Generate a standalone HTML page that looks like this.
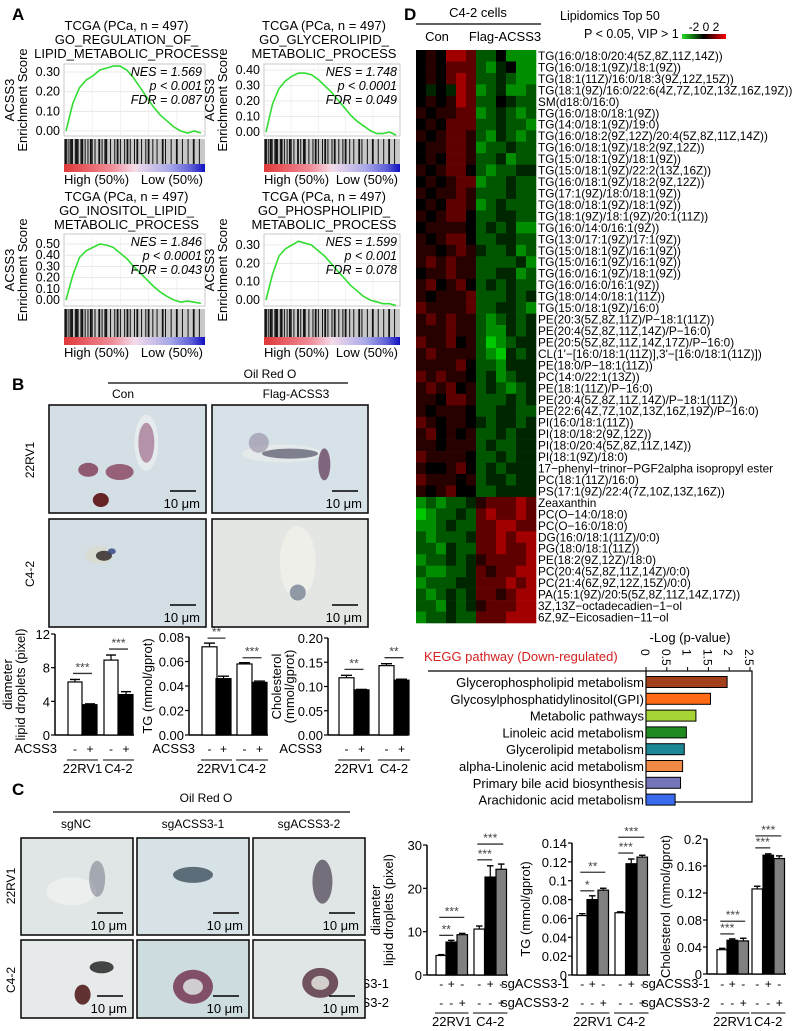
<!DOCTYPE html>
<html><head><meta charset="utf-8">
<style>
html,body{margin:0;padding:0;background:#fff;}
svg{display:block;font-family:"Liberation Sans",Arial,sans-serif;}
</style></head>
<body>
<svg id="fig" width="797" height="1031" viewBox="0 0 797 1031" xmlns="http://www.w3.org/2000/svg">
<defs>
<linearGradient id="rankGrad" x1="0" x2="1" y1="0" y2="0">
<stop offset="0" stop-color="#e03838"/><stop offset="0.35" stop-color="#f0909c"/><stop offset="0.5" stop-color="#f4dcea"/><stop offset="0.75" stop-color="#a8a8e8"/><stop offset="0.9" stop-color="#6060d8"/><stop offset="1" stop-color="#1010c0"/>
</linearGradient>
<linearGradient id="hmLegend" x1="0" x2="1"><stop offset="0" stop-color="#22dd22"/><stop offset="0.5" stop-color="#000"/><stop offset="1" stop-color="#ff0000"/></linearGradient>
</defs>
<g id="root"></g>
</svg>
<script>
// ---------- DATA ----------
const gseaCurve1 = [0,0.14,0.22,0.26,0.28,0.31,0.32,0.33,0.33,0.31,0.27,0.22,0.17,0.12,0.08,0.05,0.02,0.0,-0.01,0.0,-0.01];
const gseaCurve2 = [0,0.18,0.28,0.33,0.36,0.38,0.38,0.37,0.34,0.30,0.26,0.21,0.16,0.11,0.07,0.04,0.01,-0.01,-0.01,0.0,-0.02];
const gseaCurve3 = [0,0.22,0.38,0.44,0.47,0.50,0.49,0.47,0.42,0.37,0.30,0.24,0.18,0.12,0.07,0.03,0.0,-0.02,-0.01,-0.02,-0.03];
const gseaCurve4 = [0,0.14,0.24,0.28,0.30,0.32,0.31,0.30,0.27,0.24,0.20,0.16,0.12,0.08,0.05,0.02,0.0,-0.01,-0.02,-0.02,-0.03];
const gseaTicks1 = [0,0.1,0.2,0.3];
const gseaTicks2 = [0,0.1,0.2,0.3,0.4];
const gseaTicks3 = [0,0.1,0.2,0.3,0.4,0.5];
const gseaTicks4 = [0,0.1,0.2,0.3];
const gseaHits = [0.01,0.02,0.035,0.05,0.06,0.08,0.09,0.1,0.12,0.13,0.15,0.17,0.19,0.2,0.22,0.25,0.27,0.29,0.3,0.33,0.36,0.38,0.4,0.43,0.45,0.47,0.5,0.52,0.55,0.58,0.6,0.63,0.66,0.7,0.72,0.76,0.8,0.84,0.88,0.92,0.96];

const bDiam = [6.3,3.6,8.9,4.8];   const bDiamErr = [0.3,0.1,0.6,0.35];
const bTG = [0.072,0.046,0.058,0.043]; const bTGErr = [0.003,0.002,0.001,0.001];
const bChol = [0.118,0.093,0.143,0.113]; const bCholErr = [0.005,0.001,0.004,0.002];
const bDiamTicks = [0,4,8,12];
const bTGTicks = [0,0.02,0.04,0.06,0.08];
const bCholTicks = [0,0.05,0.10,0.15,0.20];

const cDiam = [4.5,7.6,9.3,10.6,22.6,24.4]; const cDiamErr = [0.2,0.4,0.3,0.7,2.6,1.2];
const cTG = [0.063,0.080,0.090,0.066,0.118,0.125]; const cTGErr = [0.002,0.004,0.002,0.001,0.005,0.002];
const cChol = [0.036,0.050,0.049,0.126,0.176,0.171]; const cCholErr = [0.002,0.002,0.004,0.004,0.002,0.004];
const cDiamTicks = [0,10,20,30];
const cTGTicks = [0,0.02,0.04,0.06,0.08,0.1,0.12,0.14];
const cCholTicks = [0,0.04,0.08,0.12,0.16,0.2];

const keggNames = ["Glycerophospholipid metabolism","Glycosylphosphatidylinositol(GPI)","Metabolic pathways","Linoleic acid metabolism","Glycerolipid metabolism","alpha-Linolenic acid metabolism","Primary bile acid biosynthesis","Arachidonic acid metabolism"];
const keggValues = [1.95,1.55,1.2,0.97,0.92,0.88,0.83,0.7];
const keggColors = ["#a3401c","#ff6a14","#a6d436","#1f8a1f","#1b8694","#f08a44","#7474b8","#3a6aee"];
const keggTicks = ["0","0.5","1","1.5","2","2.5"];

const lipidNames = ["TG(16:0/18:0/20:4(5Z,8Z,11Z,14Z))","TG(16:0/18:1(9Z)/18:1(9Z))","TG(18:1(11Z)/16:0/18:3(9Z,12Z,15Z))","TG(18:1(9Z)/16:0/22:6(4Z,7Z,10Z,13Z,16Z,19Z))","SM(d18:0/16:0)","TG(16:0/18:0/18:1(9Z))","TG(14:0/18:1(9Z)/19:0)","TG(16:0/18:2(9Z,12Z)/20:4(5Z,8Z,11Z,14Z))","TG(16:0/18:1(9Z)/18:2(9Z,12Z))","TG(15:0/18:1(9Z)/18:1(9Z))","TG(15:0/18:1(9Z)/22:2(13Z,16Z))","TG(16:0/18:1(9Z)/18:2(9Z,12Z))","TG(17:1(9Z)/18:0/18:1(9Z))","TG(18:0/18:1(9Z)/18:1(9Z))","TG(18:1(9Z)/18:1(9Z)/20:1(11Z))","TG(16:0/14:0/16:1(9Z))","TG(13:0/17:1(9Z)/17:1(9Z))","TG(15:0/18:1(9Z)/16:1(9Z))","TG(15:0/16:1(9Z)/16:1(9Z))","TG(16:0/16:1(9Z)/18:1(9Z))","TG(16:0/16:0/16:1(9Z))","TG(18:0/14:0/18:1(11Z))","TG(15:0/18:1(9Z)/16:0)","PE(20:3(5Z,8Z,11Z)/P\u221218:1(11Z))","PE(20:4(5Z,8Z,11Z,14Z)/P\u221216:0)","PE(20:5(5Z,8Z,11Z,14Z,17Z)/P\u221216:0)","CL(1'\u2212[16:0/18:1(11Z)],3'\u2212[16:0/18:1(11Z)])","PE(18:0/P\u221218:1(11Z))","PC(14:0/22:1(13Z))","PE(18:1(11Z)/P\u221216:0)","PE(20:4(5Z,8Z,11Z,14Z)/P\u221218:1(11Z))","PE(22:6(4Z,7Z,10Z,13Z,16Z,19Z)/P\u221216:0)","PI(16:0/18:1(11Z))","PI(18:0/18:2(9Z,12Z))","PI(18:0/20:4(5Z,8Z,11Z,14Z))","PI(18:1(9Z)/18:0)","17\u2212phenyl\u2212trinor\u2212PGF2alpha isopropyl ester","PC(18:1(11Z)/16:0)","PS(17:1(9Z)/22:4(7Z,10Z,13Z,16Z))","Zeaxanthin","PC(O\u221214:0/18:0)","PC(O\u221216:0/18:0)","DG(16:0/18:1(11Z)/0:0)","PG(18:0/18:1(11Z))","PE(18:2(9Z,12Z)/18:0)","PC(20:4(5Z,8Z,11Z,14Z)/0:0)","PC(21:4(6Z,9Z,12Z,15Z)/0:0)","PA(15:1(9Z)/20:5(5Z,8Z,11Z,14Z,17Z))","3Z,13Z\u2212octadecadien\u22121\u2212ol","6Z,9Z\u2212Eicosadien\u221211\u2212ol"];
const heatRows = [
"efehhgccebbb","efegggcbdebb","efeghgccdcbb","ededhgbcdbbc","efefhgccedcc",
"feffggbcdcbc","efegggccdccb","fefggfcbdcbc","effggfbccdcc","efeggfccdbcc",
"fefggecbccdd","efefggbccdcc","feffgfcccdcc","efeggfbcdccc","fefggeccddcc",
"effffecdcdbb","fefggeccddcc","ffefgfdccdbc","fgfgffccccdb","effgffccddbc",
"fgefgecdcdcc","fefffgcccdcd","gffffgccddcb","fgfgffcbcdcd","fffgffcbbdcd",
"gffgefcabcdd","fgffffcbadcd","ffffgeccbddd","gfgffecdbcdd","fgfgefcdcbcd",
"ffeggfcccdcd","fefffeccddcc","gfeffedcddcd","fgefefccdcdd","ffefffcdccdd",
"gffffeccdcdd","feefgecdcddd","gfffefcddcdd","fefgeeccdddd",
"bcbccdfggghg","abccdcghgghg","bbcdccgghhgg","cbcccdgghghh","ccbdccgghggh",
"bccdcdfggggh","cbbccdgfgghh","bcccddggghgh","cbcdcdggfghh","ccbdcdfggghh","bccdccggghhh"];

// ---------- HELPERS ----------
const NS="http://www.w3.org/2000/svg";
const root=document.getElementById('root');
function el(tag,attrs,parent,text){
  const e=document.createElementNS(NS,tag);
  for(const k in attrs) e.setAttribute(k,attrs[k]);
  if(text!==undefined) e.textContent=text;
  (parent||root).appendChild(e);
  return e;
}
function txt(x,y,s,size,opts,parent){
  opts=opts||{};
  const t=el('text',{x:x,y:y,'font-size':size,'text-anchor':opts.anchor||'start',fill:opts.fill||'#000','font-weight':opts.weight||'normal','font-style':opts.style||'normal'},parent,s);
  if(opts.rotate) t.setAttribute('transform','rotate('+opts.rotate+' '+x+' '+y+')');
  
  
  return t;
}
function fmt(v,d){return v.toFixed(d);}

txt(12,20,'A',17,{weight:'bold',name:'panel-a-label'});
txt(12,390,'B',17,{weight:'bold',name:'panel-b-label'});
txt(12,795,'C',17,{weight:'bold',name:'panel-c-label'});
txt(404,20,'D',17,{weight:'bold',name:'panel-d-label'});

// ---------- PANEL A ----------
function gsea(cfg){
  const g=el('g',{});
  
  
  const cx=cfg.x+cfg.w/2-8;
  txt(cx,cfg.ty,'TCGA (PCa, n = 497)',13,{anchor:'middle',name:'gsea-title'},g);
  txt(cx,cfg.ty+14,cfg.t2,13,{anchor:'middle',name:'gsea-title'},g);
  txt(cx,cfg.ty+28,cfg.t3,13,{anchor:'middle',name:'gsea-title'},g);
  const x0=cfg.x,w=cfg.w,top=cfg.top,bot=cfg.bot;
  const y=v=>cfg.zero-(v/cfg.tmax)*(cfg.zero-cfg.tmaxY);
  el('rect',{x:x0,y:top,width:w,height:bot-top,fill:'#fff',stroke:'#bbb','stroke-width':0.8},g);
  cfg.ticks.forEach(t=>{
    el('line',{x1:x0,x2:x0+w,y1:y(t),y2:y(t),stroke:'#e4e4e4','stroke-width':0.8},g);
    txt(x0-4,y(t)+4,fmt(t,2),12.5,{anchor:'end',name:'y-tick'},g);
  });
  for(let i=1;i<5;i++) el('line',{x1:x0+w*i/5,x2:x0+w*i/5,y1:top,y2:bot,stroke:'#eee','stroke-width':0.8},g);
  const pts=cfg.curve.map((v,i)=>(x0+2+i*(w-6)/(cfg.curve.length-1)).toFixed(1)+','+y(v).toFixed(1)).join(' ');
  const pl=el('polyline',{points:pts,fill:'none',stroke:'#33dd33','stroke-width':1.6},g);
  
  
  txt(x0+w-3,top+12,cfg.nes,12.5,{anchor:'end',style:'italic',name:'nes-value'},g);
  txt(x0+w-3,top+26,cfg.p,12.5,{anchor:'end',style:'italic',name:'p-value'},g);
  txt(x0+w-3,top+40,cfg.fdr,12.5,{anchor:'end',style:'italic',name:'fdr-value'},g);
  const by=bot+3,bh=cfg.barH;
  el('rect',{x:x0,y:by,width:w,height:bh,fill:'#c8c8c8'},g);
  cfg.hits.forEach((h,i)=>{
    const bx=x0+h*w;
    el('line',{x1:bx,x2:bx,y1:by,y2:by+bh-8,stroke:'#111','stroke-width':(i%3===0)?1.8:1},g);
  });
  const gr=el('rect',{x:x0,y:by+bh-8,width:w,height:8,fill:'url(#rankGrad)'},g);
  
  
  txt(x0,by+bh+12,'High (50%)',13,{name:'high-label'},g);
  txt(x0+w-2,by+bh+12,'Low (50%)',13,{anchor:'end',name:'low-label'},g);
  txt(cfg.x-50,(top+bot)/2,'ACSS3',13,{anchor:'middle',rotate:-90,name:'y-axis-title'},g);
  txt(cfg.x-37,(top+bot)/2,'Enrichment Score',13,{anchor:'middle',rotate:-90,name:'y-axis-title'},g);
}
gsea({name:'gsea-regulation-lipid',x:64,w:141,ty:30,t2:'GO_REGULATION_OF_',t3:'LIPID_METABOLIC_PROCESS',top:64,bot:136,zero:131,tmax:0.3,tmaxY:72,ticks:gseaTicks1,curve:gseaCurve1,nes:'NES = 1.569',p:'p < 0.001',fdr:'FDR = 0.087',hits:gseaHits,barH:33});
gsea({name:'gsea-glycerolipid',x:264,w:136,ty:30,t2:'GO_GLYCEROLIPID_',t3:'METABOLIC_PROCESS',top:64,bot:136,zero:132,tmax:0.4,tmaxY:70,ticks:gseaTicks2,curve:gseaCurve2,nes:'NES = 1.748',p:'p < 0.0001',fdr:'FDR = 0.049',hits:gseaHits,barH:33});
gsea({name:'gsea-inositol-lipid',x:64,w:141,ty:201,t2:'GO_INOSITOL_LIPID_',t3:'METABOLIC_PROCESS',top:234,bot:306,zero:300,tmax:0.5,tmaxY:244,ticks:gseaTicks3,curve:gseaCurve3,nes:'NES = 1.846',p:'p < 0.0001',fdr:'FDR = 0.043',hits:gseaHits,barH:36});
gsea({name:'gsea-phospholipid',x:264,w:136,ty:201,t2:'GO_PHOSPHOLIPID_',t3:'METABOLIC_PROCESS',top:234,bot:306,zero:300,tmax:0.3,tmaxY:245,ticks:gseaTicks4,curve:gseaCurve4,nes:'NES = 1.599',p:'p < 0.001',fdr:'FDR = 0.078',hits:gseaHits,barH:36});

// ---------- BAR CHARTS ----------
function barChart(cfg){
  const g=el('g',{});
  
  
  const max=cfg.ticks[cfg.ticks.length-1];
  const y=v=>cfg.y0-(v/max)*(cfg.y0-cfg.yTop);
  el('line',{x1:cfg.ax,x2:cfg.ax,y1:cfg.yTop,y2:cfg.y0,stroke:'#000','stroke-width':1.5},g);
  el('line',{x1:cfg.ax,x2:cfg.xEnd,y1:cfg.y0,y2:cfg.y0,stroke:'#000','stroke-width':1.5},g);
  cfg.ticks.forEach(t=>{
    el('line',{x1:cfg.ax-4,x2:cfg.ax,y1:y(t),y2:y(t),stroke:'#000','stroke-width':1.2},g);
    txt(cfg.ax-5,y(t)+5,cfg.tickFmt(t),cfg.tfs||13,{anchor:'end',name:'y-tick'},g);
  });
  cfg.values.forEach((v,i)=>{
    const bx=cfg.bx[i];
    const r=el('rect',{x:bx,y:y(v),width:cfg.bw,height:cfg.y0-y(v),fill:cfg.fills[i%cfg.fills.length],stroke:'#000','stroke-width':1.2},g);
    
    
    const ey=y(v+cfg.err[i]);
    el('line',{x1:bx+cfg.bw/2,x2:bx+cfg.bw/2,y1:y(v),y2:ey,stroke:'#000','stroke-width':1.2},g);
    el('line',{x1:bx+2,x2:bx+cfg.bw-2,y1:ey,y2:ey,stroke:'#000','stroke-width':1.4},g);
  });
  cfg.sig.forEach(s=>{
    const top=Math.max(...s.idx.map(i=>cfg.values[i]+cfg.err[i]));
    const sy=y(top)-s.off;
    const x1=cfg.bx[s.idx[0]]+cfg.bw/2-2,x2=cfg.bx[s.idx[s.idx.length-1]]+cfg.bw/2+2;
    el('line',{x1:x1,x2:x2,y1:sy,y2:sy,stroke:'#333','stroke-width':1.3},g);
    txt((x1+x2)/2,sy-2,s.t,12,{anchor:'middle',fill:'#444',name:'significance-mark'},g);
  });
  cfg.yTitle.forEach((t,i)=>txt(cfg.ytx+i*13,(cfg.yTop+cfg.y0)/2,t,13,{anchor:'middle',rotate:-90,name:'y-axis-title'},g));
  cfg.rows.forEach((row,ri)=>{
    txt(cfg.rowLabelX,cfg.rowY[ri],row.label,13,{anchor:'end',name:'treatment-label'},g);
    row.marks.forEach((m,i)=>txt(cfg.bx[i]+cfg.bw/2,cfg.rowY[ri],m,12,{anchor:'middle',name:'treatment-sign'},g));
  });
  cfg.groups.forEach(gp=>{
    const x1=cfg.bx[gp.idx[0]]-1,x2=cfg.bx[gp.idx[gp.idx.length-1]]+cfg.bw+1;
    el('line',{x1:x1,x2:x2,y1:cfg.grpY,y2:cfg.grpY,stroke:'#000','stroke-width':1},g);
    txt((x1+x2)/2,cfg.grpY+13,gp.name,13,{anchor:'middle',name:'cell-line-label'},g);
  });
}
const f0=t=>String(t), f2=t=>t.toFixed(2), fC=t=>(t===0?'0':String(+t.toFixed(2)));
barChart({name:'chart-b-diameter',ax:55,xEnd:134,y0:735,yTop:634,ticks:bDiamTicks,tickFmt:f0,values:bDiam,err:bDiamErr,bx:[68,83,104,119],bw:14,fills:['#fff','#000'],
  sig:[{idx:[0,1],t:'***',off:6},{idx:[2,3],t:'***',off:6}],yTitle:['diameter','lipid droplets (pixel)'],ytx:12,
  rows:[{label:'ACSS3',marks:['-','+','-','+']}],rowLabelX:57,rowY:[753],groups:[{name:'22RV1',idx:[0,1]},{name:'C4-2',idx:[2,3]}],grpY:760});
barChart({name:'chart-b-tg',ax:189,xEnd:268,y0:735,yTop:637,ticks:bTGTicks,tickFmt:f2,values:bTG,err:bTGErr,bx:[202,216,237,252],bw:15,fills:['#fff','#000'],
  sig:[{idx:[0,1],t:'**',off:5},{idx:[2,3],t:'***',off:5}],yTitle:['TG (mmol/gprot)'],ytx:152,
  rows:[{label:'ACSS3',marks:['-','+','-','+']}],rowLabelX:195,rowY:[753],groups:[{name:'22RV1',idx:[0,1]},{name:'C4-2',idx:[2,3]}],grpY:760});
barChart({name:'chart-b-cholesterol',ax:328,xEnd:408,y0:735,yTop:638,ticks:bCholTicks,tickFmt:f2,values:bChol,err:bCholErr,bx:[339,354,379,394],bw:15,fills:['#fff','#000'],
  sig:[{idx:[0,1],t:'**',off:6},{idx:[2,3],t:'**',off:6}],yTitle:['Cholesterol','(mmol/gprot)'],ytx:281,
  rows:[{label:'ACSS3',marks:['-','+','-','+']}],rowLabelX:322,rowY:[753],groups:[{name:'22RV1',idx:[0,1]},{name:'C4-2',idx:[2,3]}],grpY:760});
const cRows=[{label:'sgACSS3-1',marks:['-','+','-','-','+','-']},{label:'sgACSS3-2',marks:['-','-','+','-','-','+']}];
barChart({name:'chart-c-diameter',ax:427,xEnd:508,y0:975,yTop:845,ticks:cDiamTicks,tickFmt:f0,values:cDiam,err:cDiamErr,bx:[436,446,457,474,485,496],bw:10.5,fills:['#fff','#000','#808080'],
  sig:[{idx:[0,1],t:'**',off:5},{idx:[0,2],t:'***',off:16},{idx:[3,4],t:'***',off:6},{idx:[3,5],t:'***',off:20}],yTitle:['diameter','lipid droplets (pixel)'],ytx:380,
  rows:cRows,rowLabelX:389,rowY:[988,1007],groups:[{name:'22RV1',idx:[0,2]},{name:'C4-2',idx:[3,5]}],grpY:1013});
barChart({name:'chart-c-tg',ax:572,xEnd:650,y0:975,yTop:843,ticks:cTGTicks,tickFmt:fC,values:cTG,err:cTGErr,bx:[577,587,598,615,626,637],bw:10.5,fills:['#fff','#000','#808080'],
  sig:[{idx:[0,1],t:'*',off:5},{idx:[0,2],t:'**',off:16},{idx:[3,4],t:'***',off:6},{idx:[3,5],t:'***',off:18}],yTitle:['TG (mmol/gprot)'],ytx:530,
  rows:cRows,rowLabelX:569,rowY:[988,1007],groups:[{name:'22RV1',idx:[0,2]},{name:'C4-2',idx:[3,5]}],grpY:1013});
barChart({name:'chart-c-cholesterol',ax:707,xEnd:786,y0:974,yTop:839,ticks:cCholTicks,tickFmt:fC,values:cChol,err:cCholErr,bx:[717,727,738,752,763,774],bw:10.5,fills:['#fff','#000','#808080'],
  sig:[{idx:[0,1],t:'***',off:5},{idx:[0,2],t:'***',off:17},{idx:[3,4],t:'***',off:6},{idx:[3,5],t:'***',off:20}],yTitle:['Cholesterol (mmol/gprot)'],ytx:670,
  rows:cRows,rowLabelX:710,rowY:[988,1007],groups:[{name:'22RV1',idx:[0,2]},{name:'C4-2',idx:[3,5]}],grpY:1013});

// ---------- MICROSCOPY IMAGES (drawn after charts so they sit on top) ----------
function photo(x,y,w,h,bg,blobs,name){
  const g=el('g',{});
  
  
  el('rect',{x:x,y:y,width:w,height:h,fill:bg,stroke:'#111','stroke-width':1.6},g);
  blobs.forEach(b=>{
    el('ellipse',{cx:x+b[0]*w,cy:y+b[1]*h,rx:b[2],ry:b[3],fill:b[4],opacity:b[5]||0.85},g);
  });
  el('line',{x1:x+w-36,x2:x+w-10,y1:y+h-22,y2:y+h-22,stroke:'#000','stroke-width':1.6},g);
  txt(x+w-6,y+h-5,'10 \u03bcm',13,{anchor:'end',name:'scale-bar-label'},g);
}
txt(270,378,'Oil Red O',12,{anchor:'middle',name:'oil-red-o-title'});
el('line',{x1:108,x2:348,y1:383,y2:383,stroke:'#000','stroke-width':1.2});
txt(123,398,'Con',12,{anchor:'middle',name:'con-header'});
txt(296,398,'Flag-ACSS3',12,{anchor:'middle',name:'flag-acss3-header'});
txt(34,460,'22RV1',12,{anchor:'middle',rotate:-90,name:'row-label-22rv1'});
txt(34,574,'C4-2',12,{anchor:'middle',rotate:-90,name:'row-label-c42'});
photo(49,405,157,108,'#d3dfe4',[[0.62,0.35,12,28,'#e8ecee',0.9],[0.62,0.35,8,20,'#8a4a70',0.55],[0.45,0.62,14,8,'#7a2a4a',0.7],[0.25,0.6,10,7,'#702040',0.7],[0.33,0.88,8,7,'#5a1010',0.9]],'photo-22rv1-con');
photo(212,405,156,108,'#d6e2e8',[[0.45,0.45,40,9,'#e6eaea',0.9],[0.5,0.45,28,5,'#3a3a50',0.6],[0.72,0.55,6,16,'#5a3050',0.7],[0.3,0.35,10,10,'#7a6a8a',0.45]],'photo-22rv1-flag');
photo(49,519,157,108,'#d3dfe4',[[0.32,0.33,14,9,'#d8dcd0',0.9],[0.35,0.34,8,5,'#2a2020',0.8],[0.4,0.3,4,3,'#304080',0.8]],'photo-c42-con');
photo(212,519,156,108,'#e3e6e2',[[0.55,0.4,18,36,'#eef0ea',0.9],[0.55,0.68,8,8,'#50607a',0.6]],'photo-c42-flag');

txt(206,802,'Oil Red O',12,{anchor:'middle',name:'oil-red-o-title-c'});
el('line',{x1:53,x2:350,y1:812,y2:812,stroke:'#000','stroke-width':1.2});
txt(76,828,'sgNC',12,{anchor:'middle',name:'sgnc-header'});
txt(193,828,'sgACSS3-1',12,{anchor:'middle',name:'sgacss3-1-header'});
txt(309,828,'sgACSS3-2',12,{anchor:'middle',name:'sgacss3-2-header'});
txt(15,886,'22RV1',12,{anchor:'middle',rotate:-90,name:'row-label-22rv1-c'});
txt(15,980,'C4-2',12,{anchor:'middle',rotate:-90,name:'row-label-c42-c'});
photo(21,838,112,97,'#e0e6e6',[[0.45,0.55,25,14,'#eef0ee',0.9],[0.68,0.42,8,18,'#5a6070',0.45]],'photo-22rv1-sgnc');
photo(137,838,112,97,'#d6e2e6',[[0.5,0.38,20,8,'#2a3a4a',0.7]],'photo-22rv1-sg1');
photo(253,838,112,97,'#e0e6e6',[[0.62,0.45,10,22,'#3a3040',0.65]],'photo-22rv1-sg2');
photo(21,940,112,78,'#e6eaea',[[0.72,0.35,12,6,'#1a1a1a',0.8],[0.55,0.7,8,10,'#4a1010',0.85]],'photo-c42-sgnc');
photo(137,940,112,78,'#ccdcdf',[[0.5,0.6,20,17,'#6a2040',0.75],[0.5,0.6,10,8,'#d8dcdc',0.9]],'photo-c42-sg1');
photo(253,940,112,78,'#e0e6e6',[[0.6,0.55,18,15,'#4a2030',0.75],[0.6,0.55,9,7,'#dcdcd8',0.9]],'photo-c42-sg2');

// ---------- PANEL D HEATMAP ----------
txt(478,17,'C4-2 cells',13,{anchor:'middle',name:'c42-cells-header'});
el('line',{x1:416,x2:541,y1:24,y2:24,stroke:'#000','stroke-width':1.2});
txt(437,41,'Con',13,{anchor:'middle',name:'con-group-label'});
txt(505,41,'Flag-ACSS3',13,{anchor:'middle',name:'flag-group-label'});
txt(560,20,'Lipidomics Top 50',12.5,{name:'lipidomics-title'});
txt(584,38,'P < 0.05, VIP > 1',12.5,{name:'threshold-label'});
txt(704,31,'-2 0 2',12,{anchor:'middle',name:'color-legend-ticks'});
const lg=el('rect',{x:682,y:34,width:44,height:5,fill:'url(#hmLegend)'});


const hmX=416,hmY=50,cw=10,rh=(623-50)/heatRows.length;
function heatColor(v){
  if(v>=0) return 'rgb('+Math.round(Math.pow(Math.min(1,v/2),1.3)*235)+',0,0)';
  return 'rgb(0,'+Math.round(Math.pow(Math.min(1,-v/2),1.2)*200)+',0)';
}
heatRows.forEach((row,r)=>{
  for(let c=0;c<row.length;c++){
    const v=(row.charCodeAt(c)-101)*0.5;
    const cell=el('rect',{x:hmX+c*cw,y:(hmY+r*rh).toFixed(2),width:cw+0.3,height:(rh+0.3).toFixed(2),fill:heatColor(v)});
    
    
  }
  txt(538,hmY+r*rh+rh-1.5,lipidNames[r],11.8,{name:'lipid-label'});
});

// ---------- KEGG ----------
txt(424,661,'KEGG pathway (Down-regulated)',13,{fill:'#d42020',name:'kegg-title'});
txt(690,642,'-Log (p-value)',13,{anchor:'middle',name:'kegg-x-axis-title'});
const kx=v=>646+v*41.6;
el('line',{x1:428,x2:646,y1:671,y2:671,stroke:'#000','stroke-width':1.2});
el('rect',{x:646,y:671,width:106,height:131,fill:'none',stroke:'#000','stroke-width':1.2});
keggTicks.forEach(t=>{
  const x=kx(parseFloat(t));
  el('line',{x1:x,x2:x,y1:667,y2:671,stroke:'#000','stroke-width':1});
  txt(x-5,649,t,12,{rotate:90,name:'x-tick'});
});
keggValues.forEach((v,i)=>{
  const cy=682+i*16.8;
  const b=el('rect',{x:646,y:cy-5.5,width:kx(v)-646,height:11,fill:keggColors[i],stroke:'#000','stroke-width':1});
  
  
  txt(644,cy+5,keggNames[i],13,{anchor:'end',name:'kegg-pathway-label'});
});
</script>
</body></html>
